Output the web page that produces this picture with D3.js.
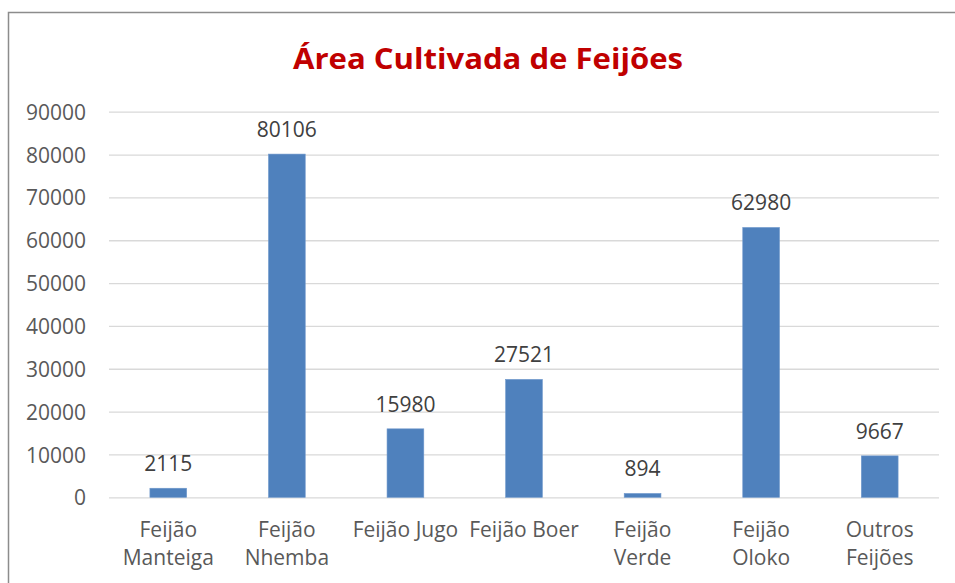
<!DOCTYPE html>
<html>
<head>
<meta charset="utf-8">
<script src="https://cdn.jsdelivr.net/npm/d3@7"></script>
<style>
  html, body { margin: 0; padding: 0; background: #fff; }
  svg { display: block; }
</style>
</head>
<body>
<svg id="chart" width="955" height="583"></svg>
<script>
// Área cultivada por tipo de feijão
const categories = [
  ["Feijão", "Manteiga"],
  ["Feijão", "Nhemba"],
  ["Feijão Jugo"],
  ["Feijão Boer"],
  ["Feijão", "Verde"],
  ["Feijão", "Oloko"],
  ["Outros", "Feijões"]
];
const values = [2115, 80106, 15980, 27521, 894, 62980, 9667];
const yTicks = [0, 10000, 20000, 30000, 40000, 50000, 60000, 70000, 80000, 90000];
const title = "Área Cultivada de Feijões";

const svg = d3.select("#chart");
const font = "'Open Sans', sans-serif";

// chart frame
svg.append("rect")
  .attr("x", 8.5).attr("y", 12.5)
  .attr("width", 960).attr("height", 600)
  .attr("fill", "#fff")
  .attr("stroke", "#8c8c8c").attr("stroke-width", 1.5);

const plot = { left: 109, right: 939, top: 111.7, bottom: 497.3 };

const x = d3.scaleBand()
  .domain(d3.range(categories.length))
  .range([plot.left, plot.right])
  .paddingInner(0.69).paddingOuter(0.345);

const y = d3.scaleLinear()
  .domain([0, 90000])
  .range([plot.bottom, plot.top]);

// title
svg.append("text")
  .attr("x", 488).attr("y", 69)
  .attr("text-anchor", "middle")
  .attr("font-family", font)
  .attr("font-weight", "bold")
  .attr("font-size", 28)
  .attr("fill", "#C00000")
  .attr("textLength", 390)
  .attr("lengthAdjust", "spacingAndGlyphs")
  .text(title);

// horizontal gridlines + tick labels
const yAxis = d3.axisLeft(y)
  .tickValues(yTicks)
  .tickSize(-(plot.right - plot.left))
  .tickPadding(23)
  .tickFormat(d3.format("d"));

const gy = svg.append("g")
  .attr("transform", `translate(${plot.left},0)`)
  .call(yAxis);
gy.select(".domain").remove();
gy.selectAll(".tick line")
  .attr("stroke", "#d9d9d9").attr("stroke-width", 1.3);
gy.selectAll(".tick text")
  .attr("font-family", font)
  .attr("font-size", 21)
  .attr("fill", "#595959")
  .attr("dy", "0.36em");

// bars
svg.append("g").selectAll("rect")
  .data(values)
  .join("rect")
  .attr("x", (d, i) => x(i))
  .attr("width", x.bandwidth())
  .attr("y", d => y(d))
  .attr("height", d => y(0) - y(d))
  .attr("fill", "#4F81BD")
  .attr("stroke", "#6f98cc")
  .attr("stroke-width", 0.6);

// value labels
svg.append("g").selectAll("text")
  .data(values)
  .join("text")
  .attr("x", (d, i) => x(i) + x.bandwidth() / 2)
  .attr("y", d => y(d) - 17)
  .attr("text-anchor", "middle")
  .attr("font-family", font)
  .attr("font-size", 21)
  .attr("fill", "#404040")
  .text(d => d);

// category labels
const cat = svg.append("g").selectAll("text")
  .data(categories)
  .join("text")
  .attr("x", (d, i) => x(i) + x.bandwidth() / 2)
  .attr("y", 537)
  .attr("text-anchor", "middle")
  .attr("font-family", font)
  .attr("font-size", 21)
  .attr("fill", "#595959");
cat.selectAll("tspan")
  .data(d => d)
  .join("tspan")
  .attr("x", function () { return d3.select(this.parentNode).attr("x"); })
  .attr("dy", (d, i) => i === 0 ? 0 : 28)
  .text(d => d);
</script>
</body>
</html>
